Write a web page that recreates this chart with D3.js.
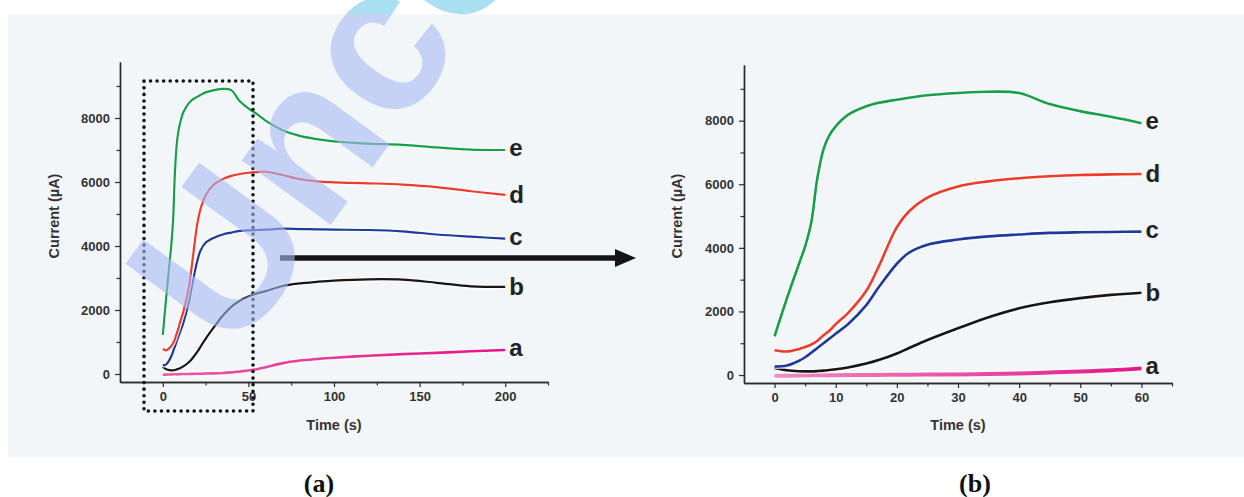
<!DOCTYPE html>
<html>
<head>
<meta charset="utf-8">
<script src="https://cdn.jsdelivr.net/npm/d3@7"></script>
<style>
  body { margin: 0; background: #fff; }
  svg { display: block; }
  text { font-family: "Liberation Sans", Arial, sans-serif; }
</style>
</head>
<body>
<svg id="fig" width="1244" height="497"></svg>
<script>
// time (s) shared by every curve
var times = [0, 2, 4, 5, 6, 7, 8, 9, 10, 12, 15, 17, 20, 22, 25, 30, 35, 40, 45, 50, 55, 60,
             70, 80, 90, 100, 120, 140, 160, 180, 200];

// current (uA) for each curve
var curveA = [-20, -20, -15, -15, -10, -10, -10, -10, -5, 0, 0, 5, 10, 10, 15, 20, 30, 50, 80, 110, 150, 210,
              340, 420, 470, 510, 570, 620, 660, 710, 750];
var curveB = [220, 150, 120, 115, 115, 125, 140, 160, 180, 240, 360, 470, 680, 850, 1100, 1470, 1820, 2100, 2290, 2420, 2520, 2590,
              2750, 2830, 2880, 2920, 2960, 2950, 2850, 2740, 2720];
var curveC = [270, 300, 450, 560, 700, 850, 1000, 1150, 1300, 1600, 2200, 2750, 3500, 3850, 4100, 4260, 4360, 4420, 4470, 4490, 4500, 4510,
              4540, 4530, 4520, 4510, 4500, 4460, 4360, 4290, 4230];
var curveD = [780, 740, 820, 880, 960, 1080, 1250, 1400, 1600, 1950, 2650, 3400, 4650, 5150, 5580, 5930, 6090, 6190, 6250, 6290, 6310, 6320,
              6220, 6090, 6020, 5990, 5960, 5920, 5840, 5710, 5600];
var curveE = [1220, 2400, 3500, 4050, 4800, 6200, 7100, 7550, 7820, 8180, 8450, 8560, 8660, 8720, 8800, 8870, 8910, 8870, 8520, 8300, 8120, 7920,
              7620, 7440, 7340, 7270, 7200, 7160, 7080, 7010, 7000];

var curveNames = ["a", "b", "c", "d", "e"];
var curveColors = ["#e6198b", "#161616", "#1f3a9c", "#ee3b2a", "#16a04a"];
var allCurves = [curveA, curveB, curveC, curveD, curveE];

var yMajor = [0, 2000, 4000, 6000, 8000];
var yMinor = [1000, 3000, 5000, 7000, 9000];
var leftMajor = [0, 50, 100, 150, 200];
var leftMinor = [25, 75, 125, 175, 225];
var rightMajor = [0, 10, 20, 30, 40, 50, 60];
var rightMinor = [5, 15, 25, 35, 45, 55, 65];

var svg = d3.select("#fig");
var defs = svg.append("defs");

// light figure background
svg.append("rect").attr("x", 8).attr("y", 14).attr("width", 1236).attr("height", 443)
  .attr("fill", "#f3f6f9");

var panels = [
  {name: "(a)", xr: [120, 548], xd: [-25, 225], yr: [382, 62], tmax: 200,
   major: leftMajor, minor: leftMinor, ytitleX: 54, titleX: 334, labX: 319, lw: 2.2, pinkW: 2.6},
  {name: "(b)", xr: [744, 1172], xd: [-5, 65], yr: [383, 65], tmax: 60,
   major: rightMajor, minor: rightMinor, ytitleX: 677, titleX: 958, labX: 975, lw: 2.6, pinkW: 4}
];

panels.forEach(function(p, pi) {
  var x = d3.scaleLinear().domain(p.xd).range(p.xr);
  var y = d3.scaleLinear().domain([-250, 9750]).range(p.yr);
  var g = svg.append("g");

  // axes
  g.append("g").attr("transform", "translate(0," + p.yr[0] + ")")
    .call(d3.axisBottom(x).tickValues(p.major).tickSize(5).tickSizeOuter(0).tickPadding(5)
      .tickFormat(d3.format("d")));
  g.append("g").attr("transform", "translate(0," + p.yr[0] + ")")
    .call(d3.axisBottom(x).tickValues(p.minor).tickSize(3.5).tickSizeOuter(0).tickFormat(""));
  g.append("g").attr("transform", "translate(" + p.xr[0] + ",0)")
    .call(d3.axisLeft(y).tickValues(yMajor).tickSize(5).tickSizeOuter(0).tickPadding(5)
      .tickFormat(d3.format("d")));
  g.append("g").attr("transform", "translate(" + p.xr[0] + ",0)")
    .call(d3.axisLeft(y).tickValues(yMinor).tickSize(3.5).tickSizeOuter(0).tickFormat(""));

  g.selectAll(".domain").attr("stroke", "#2b2b2b").attr("stroke-width", 1.4);
  g.selectAll(".tick line").attr("stroke", "#2b2b2b").attr("stroke-width", 1.2);
  g.selectAll(".tick text").attr("fill", "#333").style("font-size", "13px")
    .style("font-weight", "bold").style("font-family", "Liberation Sans, Arial, sans-serif");

  g.append("text").attr("x", p.titleX).attr("y", 430).attr("text-anchor", "middle")
    .attr("fill", "#333").style("font-size", "14.5px").style("font-weight", "bold")
    .text("Time (s)");
  g.append("text").attr("transform", "translate(" + p.ytitleX + ",216) rotate(-90)")
    .attr("text-anchor", "middle").attr("dy", "0.35em")
    .attr("fill", "#333").style("font-size", "14.5px").style("font-weight", "bold")
    .text("Current (\u00b5A)");

  // pink gradient for the wide magenta band on the zoomed panel
  var gradId = "pink" + pi;
  var grad = defs.append("linearGradient").attr("id", gradId)
    .attr("gradientUnits", "userSpaceOnUse")
    .attr("x1", x(0)).attr("x2", x(p.tmax)).attr("y1", 0).attr("y2", 0);
  grad.append("stop").attr("offset", "0%").attr("stop-color", pi ? "#ee8cc3" : "#ea5aa8");
  grad.append("stop").attr("offset", "100%").attr("stop-color", "#e3168a");

  var line = d3.line()
    .x(function(d) { return x(d[0]); })
    .y(function(d) { return y(d[1]); })
    .curve(d3.curveCatmullRom.alpha(0.5));

  allCurves.forEach(function(vals, ci) {
    var pts = times.map(function(t, i) { return [t, vals[i]]; })
      .filter(function(d) { return d[0] <= p.tmax; });
    var w = ci === 0 ? p.pinkW : p.lw;
    g.append("path").attr("d", line(pts)).attr("fill", "none")
      .attr("stroke", "#fff").attr("stroke-opacity", 0.7).attr("stroke-width", w + 2.5);
    g.append("path").attr("d", line(pts)).attr("fill", "none")
      .attr("stroke", ci === 0 ? "url(#" + gradId + ")" : curveColors[ci])
      .attr("stroke-width", w).attr("stroke-linejoin", "round");

    var last = pts[pts.length - 1];
    var tall = curveNames[ci] === "b" || curveNames[ci] === "d";
    g.append("text").attr("x", x(last[0]) + 4).attr("y", y(last[1]) + (tall ? 8 : 6))
      .attr("fill", "#222").style("font-size", "24px").style("font-weight", "bold")
      .text(curveNames[ci]);
  });

  svg.append("text").attr("x", p.labX).attr("y", 492).attr("text-anchor", "middle")
    .attr("fill", "#111").style("font-family", "Liberation Serif, Times New Roman, serif")
    .style("font-size", "26px").style("font-weight", "bold")
    .text(p.name);
});

// dotted selection box on panel (a)
svg.append("rect").attr("x", 144).attr("y", 81).attr("width", 109).attr("height", 330)
  .attr("fill", "none").attr("stroke", "#111").attr("stroke-width", 3.6)
  .attr("stroke-linecap", "round").attr("stroke-dasharray", "0 6.55");

// arrow from (a) to (b)
svg.append("line").attr("x1", 280).attr("x2", 617).attr("y1", 258).attr("y2", 258)
  .attr("stroke", "#151515").attr("stroke-width", 5.5);
svg.append("path").attr("d", "M615,249 L636,258 L615,267 Z").attr("fill", "#151515");

// watermark, running off the top edge like in the source
defs.append("clipPath").attr("id", "inBg").append("rect")
  .attr("x", 0).attr("y", 14).attr("width", 1244).attr("height", 483);
defs.append("clipPath").attr("id", "outBg").append("rect")
  .attr("x", 0).attr("y", 0).attr("width", 1244).attr("height", 14);
var wmT = "translate(234,358) rotate(-54)";
svg.append("g").attr("clip-path", "url(#inBg)").append("text").attr("transform", wmT)
  .attr("fill", "rgb(168,185,243)").attr("fill-opacity", 0.6)
  .style("font-size", "208px").style("font-weight", "bold").text("Unco");
svg.append("g").attr("clip-path", "url(#outBg)").append("text").attr("transform", wmT)
  .attr("fill", "#9fdcef").attr("fill-opacity", 0.9)
  .style("font-size", "208px").style("font-weight", "bold").text("Unco");
</script>
</body>
</html>
